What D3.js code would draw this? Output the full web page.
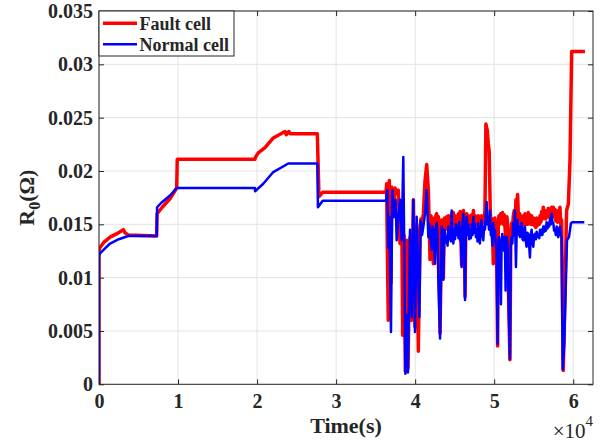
<!DOCTYPE html>
<html lang="en">

<head>
  <meta charset="UTF-8">
  <script src="https://cdn.jsdelivr.net/npm/d3@7"></script>
  <title>R0 fault vs normal cell</title>
  <style>
    body { margin: 0; background: #fff; }
    text { font-family: "Liberation Serif", "Times New Roman", serif; fill: #262626; }
  </style>
</head>

<body>
  <script>
  // tick values (x in units of 10^4 s)
  const timeTicks = [0, 1, 2, 3, 4, 5, 6];
  const rTicks = [0, 0.005, 0.01, 0.015, 0.02, 0.025, 0.03, 0.035];

  // [time (s), R0 (ohm)]
  const faultCell = [
    [0, 0], [0, 0.0125], [100, 0.0128], [600, 0.0133], [1400, 0.0138], [2200, 0.0141],
    [3080, 0.0145], [3300, 0.0142], [3700, 0.0140], [7300, 0.0139], [7350, 0.0160],
    [8000, 0.0166], [8980, 0.0174], [9830, 0.0184], [9900, 0.0211], [19730, 0.0211],
    [19800, 0.0213], [20150, 0.0217], [21000, 0.0222], [22050, 0.0231], [23530, 0.0237],
    [23700, 0.0234], [24000, 0.0237], [24200, 0.0235], [27620, 0.0235], [27830, 0.0176],
    [28300, 0.0180], [36310, 0.0180],
    [36390, 0.0188], [36480, 0.0126], [36600, 0.0060], [36730, 0.0191], [36940, 0.0095],
    [37030, 0.0185], [37240, 0.0157], [37450, 0.0184], [37660, 0.0179], [37870, 0.0182],
    [38080, 0.0132], [38290, 0.0170], [38420, 0.0046], [38590, 0.0140], [38760, 0.0012],
    [38930, 0.0135], [39090, 0.0015], [39350, 0.0138], [39560, 0.0060], [39770, 0.0173],
    [39980, 0.0054], [40190, 0.0150], [40400, 0.0031], [40610, 0.0140], [40720, 0.0155],
    [40830, 0.0150], [41040, 0.0160], [41250, 0.0191], [41460, 0.0206], [41670, 0.0182],
    [41780, 0.0150], [41880, 0.0117], [42000, 0.0158], [42090, 0.0154], [42200, 0.0150],
    [42300, 0.0113], [42400, 0.0156], [42510, 0.0153], [42620, 0.0158], [42720, 0.0160],
    [42830, 0.0150], [42940, 0.0157], [43150, 0.0048], [43360, 0.0154], [43570, 0.0100],
    [43700, 0.0156], [43850, 0.0145], [43990, 0.0157], [44100, 0.0147], [44200, 0.0158],
    [44300, 0.0150], [44410, 0.0156], [44520, 0.0146], [44620, 0.0160], [44720, 0.0150],
    [44830, 0.0161], [44950, 0.0149], [45050, 0.0158], [45150, 0.0150], [45260, 0.0157],
    [45380, 0.0149], [45480, 0.0160], [45580, 0.0151], [45680, 0.0162], [45880, 0.0112],
    [46000, 0.0158], [46100, 0.0163], [46200, 0.0150], [46310, 0.0082], [46420, 0.0155],
    [46520, 0.0160], [46620, 0.0150], [46730, 0.0158], [46840, 0.0148], [46940, 0.0157],
    [47050, 0.0150], [47160, 0.0159], [47270, 0.0151], [47370, 0.0163], [47480, 0.0152],
    [47580, 0.0158], [47690, 0.0150], [47790, 0.0157], [47890, 0.0149], [47980, 0.0158],
    [48090, 0.0150], [48190, 0.0156], [48300, 0.0148], [48400, 0.0158], [48510, 0.0150],
    [48620, 0.0157], [48720, 0.0151], [48830, 0.0163], [48950, 0.0244], [49120, 0.0238],
    [49250, 0.0226], [49370, 0.0218], [49500, 0.0163], [49580, 0.0150], [49670, 0.0147],
    [49780, 0.0155], [49880, 0.0113], [49990, 0.0150], [50090, 0.0156], [50200, 0.0146],
    [50300, 0.0132], [50430, 0.0036], [50520, 0.0148], [50600, 0.0158], [50700, 0.0150],
    [50820, 0.0160], [50940, 0.0152], [51050, 0.0161], [51160, 0.0150], [51270, 0.0159],
    [51440, 0.0138], [51530, 0.0152], [51610, 0.0157], [51700, 0.0148], [51780, 0.0094],
    [51990, 0.0023], [52100, 0.0140], [52200, 0.0151], [52300, 0.0145], [52420, 0.0158],
    [52540, 0.0163], [52640, 0.0150], [52750, 0.0173], [52850, 0.0168], [52960, 0.0178],
    [53050, 0.0160], [53130, 0.0154], [53240, 0.0160], [53350, 0.0150], [53470, 0.0157],
    [53580, 0.0149], [53680, 0.0158], [53790, 0.0151], [53890, 0.0160], [54000, 0.0150],
    [54100, 0.0157], [54210, 0.0150], [54310, 0.0161], [54420, 0.0152], [54520, 0.0159],
    [54630, 0.0150], [54730, 0.0158], [54840, 0.0150], [54950, 0.0156], [55050, 0.0149],
    [55160, 0.0155], [55270, 0.0147], [55370, 0.0156], [55480, 0.0149], [55580, 0.0154],
    [55700, 0.0150], [55800, 0.0158], [55900, 0.0152], [56000, 0.0162], [56100, 0.0155],
    [56210, 0.0166], [56320, 0.0156], [56420, 0.0163], [56530, 0.0155], [56630, 0.0160],
    [56740, 0.0157], [56840, 0.0165], [56950, 0.0157], [57050, 0.0163], [57160, 0.0156],
    [57270, 0.0166], [57370, 0.0158], [57480, 0.0166], [57580, 0.0157], [57690, 0.0164],
    [57800, 0.0153], [57900, 0.0159], [58000, 0.0152], [58110, 0.0163], [58210, 0.0155],
    [58320, 0.0166], [58420, 0.0150], [58530, 0.0154], [58740, 0.0013], [58950, 0.0087],
    [59160, 0.0163], [59380, 0.0169], [59590, 0.0210], [59800, 0.0312], [61480, 0.0312]
  ];

  const normalCell = [
    [0, 0], [0, 0.0120], [50, 0.0122], [700, 0.0127], [1400, 0.0132], [2500, 0.0136],
    [3700, 0.0139], [7300, 0.0139], [7350, 0.0166], [8000, 0.0171], [8980, 0.0177],
    [9830, 0.0184], [19730, 0.0184], [19750, 0.0181], [20780, 0.0188], [22050, 0.0199],
    [23950, 0.0207], [27620, 0.0207], [27700, 0.0166], [28300, 0.0172], [36310, 0.0172],
    [36480, 0.0182], [36600, 0.0128], [36730, 0.0157], [36940, 0.0049], [37110, 0.0182],
    [37320, 0.0157], [37530, 0.0173], [37660, 0.0135], [37870, 0.0157], [38080, 0.0173],
    [38290, 0.0135], [38500, 0.0213], [38630, 0.0120], [38760, 0.0010], [38930, 0.0065],
    [39090, 0.0011], [39350, 0.0145], [39560, 0.0063], [39770, 0.0173], [39980, 0.0049],
    [40190, 0.0157], [40530, 0.0063], [40700, 0.0153], [40870, 0.0140], [41040, 0.0148],
    [41250, 0.0160], [41460, 0.0182], [41670, 0.0138], [41780, 0.0150], [41880, 0.0142],
    [42090, 0.0126], [42200, 0.0148], [42300, 0.0145], [42510, 0.0113], [42620, 0.0147],
    [42720, 0.0151], [42830, 0.0140], [42940, 0.0095], [43150, 0.0043], [43360, 0.0148],
    [43470, 0.0138], [43570, 0.0098], [43680, 0.0145], [43780, 0.0142], [43890, 0.0133],
    [43990, 0.0138], [44100, 0.0130], [44200, 0.0148], [44310, 0.0136], [44410, 0.0142],
    [44520, 0.0134], [44620, 0.0163], [44720, 0.0140], [44830, 0.0132], [44950, 0.0146],
    [45050, 0.0136], [45150, 0.0150], [45260, 0.0140], [45380, 0.0148], [45480, 0.0137],
    [45580, 0.0152], [45680, 0.0135], [45780, 0.0147], [45880, 0.0110], [46000, 0.0150],
    [46100, 0.0160], [46200, 0.0140], [46310, 0.0079], [46420, 0.0148], [46520, 0.0157],
    [46620, 0.0140], [46730, 0.0150], [46840, 0.0136], [46940, 0.0145], [47050, 0.0137],
    [47160, 0.0150], [47270, 0.0140], [47370, 0.0157], [47480, 0.0142], [47580, 0.0150],
    [47690, 0.0138], [47790, 0.0145], [47890, 0.0134], [47980, 0.0151], [48090, 0.0138],
    [48190, 0.0132], [48300, 0.0145], [48400, 0.0154], [48510, 0.0140], [48620, 0.0135],
    [48720, 0.0148], [48830, 0.0145], [48940, 0.0158], [49040, 0.0171], [49140, 0.0150],
    [49250, 0.0154], [49350, 0.0145], [49460, 0.0163], [49570, 0.0140], [49670, 0.0141],
    [49780, 0.0130], [49880, 0.0151], [49990, 0.0138], [50090, 0.0145], [50200, 0.0132],
    [50300, 0.0125], [50430, 0.0038], [50520, 0.0130], [50600, 0.0138], [50720, 0.0128],
    [50850, 0.0075], [50940, 0.0135], [51020, 0.0141], [51140, 0.0130], [51270, 0.0125],
    [51350, 0.0138], [51440, 0.0088], [51530, 0.0132], [51610, 0.0138], [51700, 0.0130],
    [51780, 0.0094], [51990, 0.0024], [52100, 0.0130], [52200, 0.0138], [52300, 0.0132],
    [52410, 0.0151], [52520, 0.0140], [52620, 0.0163], [52750, 0.0110], [52850, 0.0145],
    [52960, 0.0154], [53050, 0.0140], [53150, 0.0148], [53260, 0.0138], [53360, 0.0146],
    [53470, 0.0151], [53580, 0.0136], [53680, 0.0135], [53790, 0.0146], [53890, 0.0148],
    [54000, 0.0134], [54100, 0.0129], [54210, 0.0142], [54310, 0.0141], [54420, 0.0130],
    [54520, 0.0119], [54630, 0.0140], [54730, 0.0145], [54840, 0.0133], [54950, 0.0129],
    [55050, 0.0140], [55160, 0.0141], [55270, 0.0136], [55370, 0.0143], [55480, 0.0138],
    [55580, 0.0141], [55700, 0.0137], [55800, 0.0145], [55900, 0.0140], [56000, 0.0145],
    [56100, 0.0140], [56210, 0.0148], [56320, 0.0143], [56420, 0.0148], [56530, 0.0144],
    [56630, 0.0152], [56740, 0.0146], [56840, 0.0151], [56950, 0.0148], [57050, 0.0155],
    [57160, 0.0150], [57270, 0.0160], [57370, 0.0152], [57480, 0.0151], [57580, 0.0144],
    [57690, 0.0145], [57800, 0.0140], [57900, 0.0148], [58000, 0.0141], [58110, 0.0138],
    [58210, 0.0146], [58320, 0.0148], [58420, 0.0140], [58530, 0.0138], [58660, 0.0014],
    [58870, 0.0038], [59040, 0.0087], [59210, 0.0135], [59460, 0.0138], [59710, 0.0151],
    [59880, 0.0152], [61400, 0.0152]
  ];

  const legendNames = ["Fault cell", "Normal cell"];
  const colors = ["#ff0000", "#0000ff"];

  const w = 602;
  const h = 446;
  const pl = 99, pr = 593, pt = 11, pb = 384.3;
  const axisColor = "#262626";

  const svg = d3.select("body")
    .append("svg")
    .attr("width", w)
    .attr("height", h);

  const x = d3.scaleLinear().domain([0, 62500]).range([pl, pr]);
  const y = d3.scaleLinear().domain([0, 0.035]).range([pb, pt]);

  // grid
  const grid = svg.append("g").attr("stroke", "#e3e3e3").attr("stroke-width", 1);
  grid.selectAll(".gx")
    .data(timeTicks)
    .enter()
    .append("line")
    .attr("x1", d => x(d * 1e4)).attr("x2", d => x(d * 1e4))
    .attr("y1", pt).attr("y2", pb);
  grid.selectAll(".gy")
    .data(rTicks)
    .enter()
    .append("line")
    .attr("x1", pl).attr("x2", pr)
    .attr("y1", d => y(d)).attr("y2", d => y(d));

  // lines
  svg.append("clipPath").attr("id", "plot")
    .append("rect")
    .attr("x", pl).attr("y", pt)
    .attr("width", pr - pl).attr("height", pb - pt);

  const line = d3.line()
    .x(d => x(d[0]))
    .y(d => y(d[1]));

  const plot = svg.append("g").attr("clip-path", "url(#plot)");
  plot.append("path")
    .datum(faultCell)
    .attr("fill", "none")
    .attr("stroke", colors[0])
    .attr("stroke-width", 3.5)
    .attr("stroke-linejoin", "round")
    .attr("d", line);
  plot.append("path")
    .datum(normalCell)
    .attr("fill", "none")
    .attr("stroke", colors[1])
    .attr("stroke-width", 2.5)
    .attr("stroke-linejoin", "round")
    .attr("d", line);

  // axes
  const fmtR = d => d === 0 ? "0" : String(+d.toFixed(3));
  const xTickVals = timeTicks.map(d => d * 1e4);

  function styleAxis(g, size) {
    g.select(".domain").remove();
    g.selectAll(".tick line").attr("stroke", axisColor);
    g.selectAll(".tick text")
      .attr("fill", axisColor)
      .style("font-size", size + "px")
      .style("font-weight", "bold");
  }

  svg.append("g")
    .attr("transform", `translate(0,${pb})`)
    .call(d3.axisBottom(x).tickValues(xTickVals).tickFormat(d => d / 1e4).tickSize(-5).tickPadding(10))
    .call(g => styleAxis(g, 20));
  svg.append("g")
    .attr("transform", `translate(${pl},0)`)
    .call(d3.axisLeft(y).tickValues(rTicks).tickFormat(fmtR).tickSize(-5).tickPadding(6))
    .call(g => styleAxis(g, 20));
  svg.append("g")
    .attr("transform", `translate(0,${pt})`)
    .call(d3.axisTop(x).tickValues(xTickVals).tickFormat("").tickSize(-5))
    .call(g => styleAxis(g, 20));
  svg.append("g")
    .attr("transform", `translate(${pr},0)`)
    .call(d3.axisRight(y).tickValues(rTicks).tickFormat("").tickSize(-5))
    .call(g => styleAxis(g, 20));

  svg.append("rect")
    .attr("x", pl).attr("y", pt)
    .attr("width", pr - pl).attr("height", pb - pt)
    .attr("fill", "none")
    .attr("stroke", axisColor)
    .attr("stroke-width", 1);

  // axis labels
  svg.append("text")
    .attr("x", (pl + pr) / 2)
    .attr("y", 433)
    .attr("text-anchor", "middle")
    .style("font-size", "22px")
    .style("font-weight", "bold")
    .text("Time(s)");

  const exp = svg.append("text")
    .attr("x", pr)
    .attr("y", 438)
    .attr("text-anchor", "end")
    .style("font-size", "21px");
  exp.append("tspan").text("×10");
  exp.append("tspan").attr("dy", -12).style("font-size", "15px").text("4");

  const yl = svg.append("text")
    .attr("transform", `translate(34,${(pt + pb) / 2}) rotate(-90)`)
    .attr("text-anchor", "middle")
    .style("font-size", "22px")
    .style("font-weight", "bold");
  yl.append("tspan").text("R");
  yl.append("tspan").attr("dy", 6).style("font-size", "16px").text("0");
  yl.append("tspan").attr("dy", -6).text("(Ω)");

  // legend
  const lg = svg.append("g");
  lg.append("rect")
    .attr("x", pl).attr("y", pt)
    .attr("width", 135).attr("height", 45)
    .attr("fill", "#fff")
    .attr("stroke", axisColor)
    .attr("stroke-width", 1);
  legendNames.forEach(function (name, i) {
    const ly = 23.3 + i * 21;
    lg.append("line")
      .attr("x1", 103).attr("x2", 137)
      .attr("y1", ly).attr("y2", ly)
      .attr("stroke", colors[i])
      .attr("stroke-width", i === 0 ? 3.5 : 2.5);
    lg.append("text")
      .attr("x", 139.5)
      .attr("y", ly + 6.5)
      .style("font-size", "18px")
      .style("font-weight", "bold")
      .text(name);
  });
  </script>
</body>
</html>
